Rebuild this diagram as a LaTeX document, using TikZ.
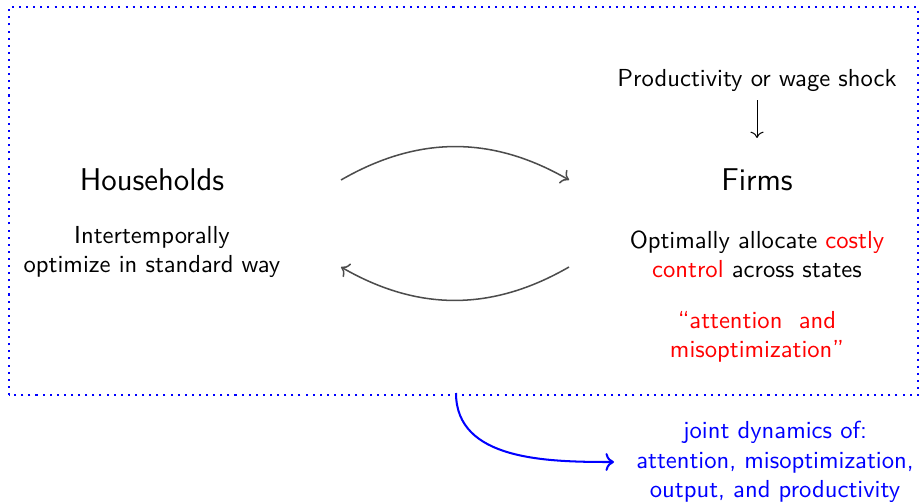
\documentclass[tikz,border=0pt]{standalone}
\usepackage{tikz}
\usetikzlibrary{arrows.meta}
\usetikzlibrary{positioning}

\begin{document}
\begin{tikzpicture}[x=0.394pt, y=0.394pt, font=\sffamily\fontsize{9.7}{11.5}\selectfont,
        title_style/.style={font=\sffamily\fontsize{12.4}{14}\selectfont},
        text_style/.style={align=center},
        loop_edge_style/.style={draw=black!70, semithick, ->},
        shock_edge_style/.style={draw=black, thin, ->},
        joint_edge_style/.style={draw=blue, thick, ->}]

        \useasboundingbox (0,0) rectangle (920,503);

        % economy
        \draw [blue, dotted, thick] (9,108) rectangle (918,496);

        \node [title_style](hh) at (152,323) {Households};
        \node [title_style](firms) at (757,323) {Firms};

        \node [text_style](hh_text) at (152,251) {Intertemporally\\optimize in standard way};
        \node [text_style](firm_text) at (757,249) {Optimally allocate \textcolor{red}{costly}\\\textcolor{red}{control} across states};
        \node [text_style, text=red](quote) at (757,166) {``attention~~and\\misoptimization''};

        \node (shock) at (757,423) {Productivity or wage shock};
        \coordinate (shock_end) at (757,365);

        \coordinate (hh_out) at (341,323);
        \coordinate (firm_in) at (569,323);
        \coordinate (firm_out) at (569,236);
        \coordinate (hh_in) at (341,236);

        \draw [shock_edge_style] (shock) -- (shock_end);
        \draw [loop_edge_style] (hh_out) to[bend left=30] (firm_in);
        \draw [loop_edge_style] (firm_out) to[bend left=30] (hh_in);

        % outcome
        \node [text_style, text=blue](joint) at (775,41) {joint dynamics of:\\attention, misoptimization,\\output, and productivity};
        \coordinate (box_exit) at (456,110);
        \coordinate (joint_in) at (614,41);
        \draw [joint_edge_style] (box_exit) to[out=-90, in=180] (joint_in);

        \end{tikzpicture}
\end{document}
